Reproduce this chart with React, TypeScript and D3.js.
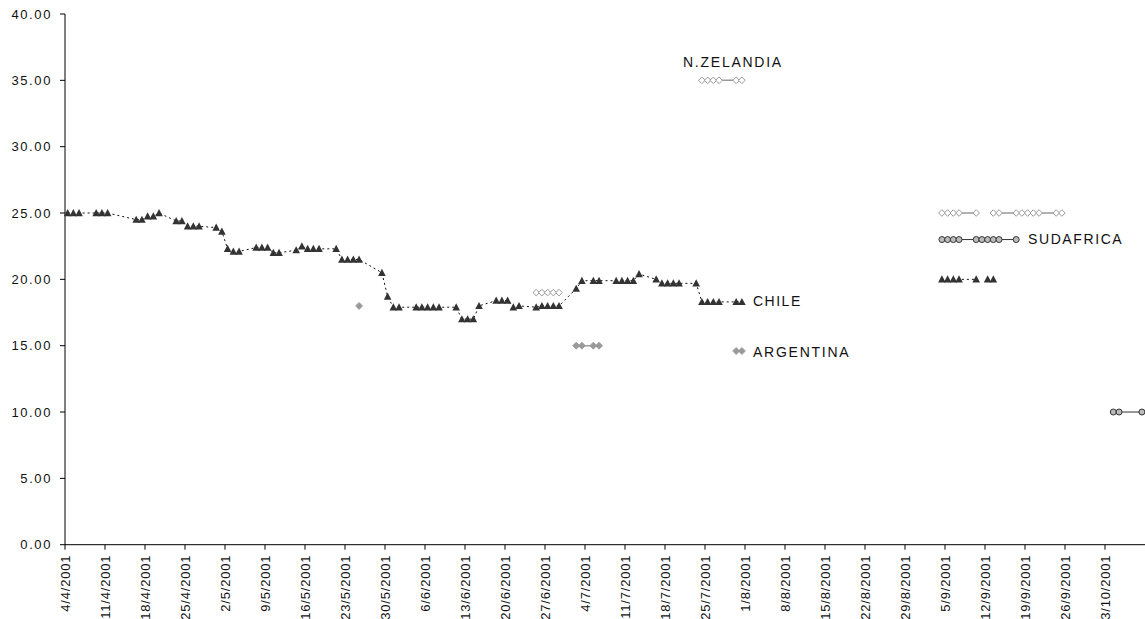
import React from 'react';
import * as d3 from 'd3';

const W = 1145;
const H = 619;

// Chile (null = gap in line)
const chileDates = [
  '4/4', '5/4', '6/4', '9/4', '10/4', '11/4', '16/4', '17/4', '18/4', '19/4', '20/4',
  '23/4', '24/4', '25/4', '26/4', '27/4', '30/4', '1/5', '2/5', '3/5', '4/5',
  '7/5', '8/5', '9/5', '10/5', '11/5', '14/5', '15/5', '16/5', '17/5', '18/5',
  '21/5', '22/5', '23/5', '24/5', '25/5', '29/5', '30/5', '31/5', '1/6',
  '4/6', '5/6', '6/6', '7/6', '8/6', '11/6', '12/6', '13/6', '14/6', '15/6',
  '18/6', '19/6', '20/6', '21/6', '22/6', '25/6', '26/6', '27/6', '28/6', '29/6',
  '2/7', '3/7', '5/7', '6/7', '9/7', '10/7', '11/7', '12/7', '13/7',
  '16/7', '17/7', '18/7', '19/7', '20/7', '23/7', '24/7', '25/7', '26/7', '27/7',
  '30/7', '31/7', '15/8', '4/9', '5/9', '6/9', '7/9', '10/9', '11/9', '12/9', '13/9',
];
const chileValues: (number | null)[] = [
  25.0, 25.0, 25.0, 25.0, 25.0, 25.0, 24.5, 24.5, 24.75, 24.75, 25.0,
  24.4, 24.4, 24.0, 24.0, 24.0, 23.9, 23.6, 22.3, 22.1, 22.1,
  22.4, 22.4, 22.4, 22.0, 22.0, 22.2, 22.5, 22.3, 22.3, 22.3,
  22.3, 21.5, 21.5, 21.5, 21.5, 20.5, 18.7, 17.9, 17.9,
  17.9, 17.9, 17.9, 17.9, 17.9, 17.9, 17.0, 17.0, 17.0, 18.0,
  18.4, 18.4, 18.4, 17.9, 18.0, 17.9, 18.0, 18.0, 18.0, 18.0,
  19.3, 19.9, 19.9, 19.9, 19.9, 19.9, 19.9, 19.9, 20.4,
  20.0, 19.7, 19.7, 19.7, 19.7, 19.7, 18.3, 18.3, 18.3, 18.3,
  18.3, 18.3, null, 20.0, 20.0, 20.0, 20.0, 20.0, null, 20.0, 20.0,
];

// Argentina
const argDates = ['25/5', '15/6', '2/7', '3/7', '5/7', '6/7', '15/7', '30/7', '31/7'];
const argValues: (number | null)[] = [18.0, null, 15.0, 15.0, 15.0, 15.0, null, 14.6, 14.6];

// Nueva Zelandia
const nzDates = [
  '25/6', '26/6', '27/6', '28/6', '29/6', '10/7',
  '24/7', '25/7', '26/7', '27/7', '30/7', '31/7', '15/8',
  '4/9', '5/9', '6/9', '7/9', '10/9', '11/9',
  '13/9', '14/9', '17/9', '18/9', '19/9', '20/9', '21/9', '24/9', '25/9',
];
const nzValues: (number | null)[] = [
  19.0, 19.0, 19.0, 19.0, 19.0, null,
  35.0, 35.0, 35.0, 35.0, 35.0, 35.0, null,
  25.0, 25.0, 25.0, 25.0, 25.0, null,
  25.0, 25.0, 25.0, 25.0, 25.0, 25.0, 25.0, 25.0, 25.0,
];

// Sudafrica
const saDates = [
  '4/9', '5/9', '6/9', '7/9', '10/9', '11/9', '12/9', '13/9', '14/9', '17/9', '28/9',
  '4/10', '5/10', '9/10',
];
const saValues: (number | null)[] = [
  23.0, 23.0, 23.0, 23.0, 23.0, 23.0, 23.0, 23.0, 23.0, 23.0, null,
  10.0, 10.0, 10.0,
];

const yTicks = [0, 5, 10, 15, 20, 25, 30, 35, 40];

const parse = (s: string) => d3.timeParse('%d/%m/%Y')(s + '/2001') as Date;
const half = (d: Date) => d3.timeHour.offset(d, 11);

type Pt = { d: Date; v: number | null };
const build = (ds: string[], vs: (number | null)[]): Pt[] =>
  ds.map((s, i) => ({ d: parse(s), v: vs[i] }));

const FONT = "'Liberation Sans', Arial, sans-serif";

export default function App() {
  const left = 65;
  const top = 14;
  const bottom = 544.7;
  const x = d3
    .scaleTime()
    .domain([parse('4/4'), parse('10/10')])
    .range([left, W]);
  const y = d3.scaleLinear().domain([0, 40]).range([bottom, top]);

  const xTicks = d3.timeDay.range(parse('4/4'), parse('4/10'), 7);
  const fmt = (d: Date) => `${d.getDate()}/${d.getMonth() + 1}/${d.getFullYear()}`;

  const line = d3
    .line<Pt>()
    .defined((p) => p.v != null)
    .x((p) => x(half(p.d)))
    .y((p) => y(p.v as number));

  const chile = build(chileDates, chileValues);
  const arg = build(argDates, argValues);
  const nz = build(nzDates, nzValues);
  const sa = build(saDates, saValues);

  const tri = (cx: number, cy: number) =>
    `M${cx},${cy - 4}L${cx + 3.8},${cy + 3.2}L${cx - 3.8},${cy + 3.2}Z`;
  const dia = (cx: number, cy: number, r: number) =>
    `M${cx},${cy - r}L${cx + r},${cy}L${cx},${cy + r}L${cx - r},${cy}Z`;

  return (
    <svg
      width={W}
      height={H}
      style={{ position: 'absolute', left: 0, top: 0, background: '#fff' }}
      fontFamily={FONT}
    >
      {/* y axis */}
      <line x1={left} x2={left} y1={top} y2={bottom} stroke="#000" />
      {yTicks.map((t) => (
        <g key={t}>
          <line x1={left - 5} x2={left} y1={y(t)} y2={y(t)} stroke="#000" />
          <text
            x={52}
            y={y(t)}
            dy="0.35em"
            textAnchor="end"
            fontSize={13}
            letterSpacing={1.6}
            fill="#111"
          >
            {d3.format('.2f')(t)}
          </text>
        </g>
      ))}
      {/* x axis */}
      <line x1={left} x2={W} y1={bottom} y2={bottom} stroke="#000" />
      {xTicks.map((t, i) => (
        <g key={i}>
          <line x1={x(t)} x2={x(t)} y1={bottom} y2={bottom + 5} stroke="#000" />
          <text
            transform={`translate(${x(t) + 4.5},${bottom + 10}) rotate(-90)`}
            textAnchor="end"
            fontSize={13}
            letterSpacing={0.8}
            fill="#111"
          >
            {fmt(t)}
          </text>
        </g>
      ))}

      {/* lines */}
      <path d={line(chile) ?? ''} fill="none" stroke="#111" strokeWidth={1} strokeDasharray="2,3" />
      <path d={line(arg) ?? ''} fill="none" stroke="#999" strokeWidth={1.5} />
      <path d={line(nz) ?? ''} fill="none" stroke="#999" strokeWidth={1.5} />
      <path d={line(sa) ?? ''} fill="none" stroke="#333" strokeWidth={1} />

      {/* markers */}
      {chile
        .filter((p) => p.v != null)
        .map((p, i) => (
          <path key={'c' + i} d={tri(x(half(p.d)), y(p.v as number))} fill="#333" />
        ))}
      {arg
        .filter((p) => p.v != null)
        .map((p, i) => (
          <path key={'a' + i} d={dia(x(half(p.d)), y(p.v as number), 3.5)} fill="#999" stroke="#999" strokeWidth={0.8} />
        ))}
      {nz
        .filter((p) => p.v != null)
        .map((p, i) => (
          <path key={'n' + i} d={dia(x(half(p.d)), y(p.v as number), 3.3)} fill="#fff" stroke="#999" strokeWidth={1} />
        ))}
      {sa
        .filter((p) => p.v != null)
        .map((p, i) => (
          <circle key={'s' + i} cx={x(half(p.d))} cy={y(p.v as number)} r={3} fill="#bbb" stroke="#333" strokeWidth={1} />
        ))}

      {/* series labels */}
      <text x={683} y={67} fontSize={14} letterSpacing={1.75} fill="#111">N.ZELANDIA</text>
      <text x={1028} y={244} fontSize={14} letterSpacing={1.6} fill="#111">SUDAFRICA</text>
      <text x={753} y={306} fontSize={14} letterSpacing={1.5} fill="#111">CHILE</text>
      <text x={753} y={357} fontSize={14} letterSpacing={1.75} fill="#111">ARGENTINA</text>
    </svg>
  );
}
